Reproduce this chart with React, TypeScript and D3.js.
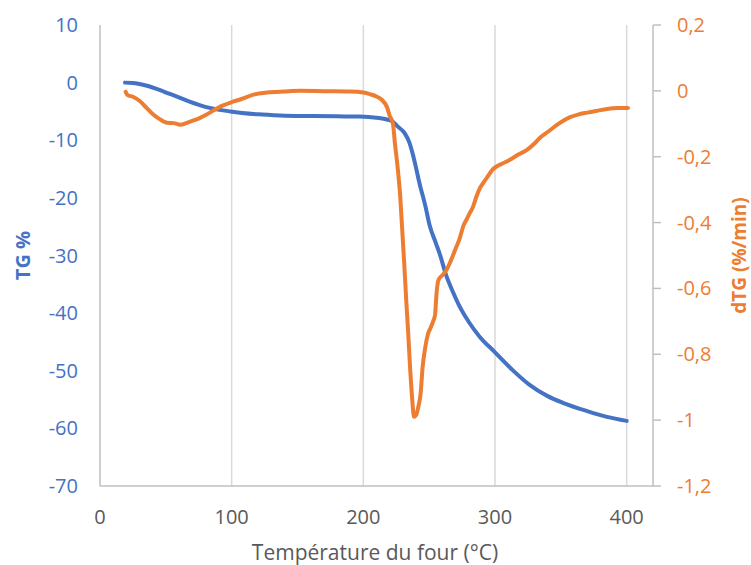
import React from "react";
import * as d3 from "d3";

const xTicks = [0, 100, 200, 300, 400];
const tgTicks = [10, 0, -10, -20, -30, -40, -50, -60, -70];
const dtgTicks = [0.2, 0, -0.2, -0.4, -0.6, -0.8, -1, -1.2];

const tgTemp = [19, 25, 35, 48, 58, 68, 80, 99, 120, 137, 160, 180, 197, 210, 218, 222.5, 226, 231.5, 235, 238, 243, 247, 250.5, 255, 258, 263, 268, 273, 280, 288, 300, 313, 326, 340, 352, 370, 385, 400];
const tgValues = [0, -0.05, -0.5, -1.5, -2.4, -3.3, -4.2, -5.0, -5.5, -5.7, -5.8, -5.85, -5.9, -6.1, -6.4, -6.8, -7.6, -8.8, -10.4, -12.8, -17.8, -21.3, -24.9, -27.8, -29.7, -33.5, -36.3, -38.8, -41.5, -44, -46.8, -49.8, -52.4, -54.4, -55.6, -57, -58, -58.7];

const dtgTemp = [19.5, 21, 25, 30, 35, 40, 45, 51, 56, 61, 66, 71, 76, 81, 86, 93, 101, 108, 116, 127, 140, 152, 170, 190, 200, 205, 210, 214, 218, 220, 222.5, 224, 226, 228, 229.5, 231, 232.5, 234, 235.5, 237, 238.5, 240, 242, 243.5, 245, 247, 249, 251, 253, 254.5, 255.5, 257, 260, 263, 266, 270, 273, 276, 278.5, 281, 283, 286, 288, 291, 294.5, 298, 301, 306, 311, 317, 324, 330, 334, 340, 349, 357, 363, 370, 378, 385, 393, 401];
const dtgValues = [-0.003, -0.013, -0.018, -0.03, -0.05, -0.07, -0.085, -0.097, -0.098, -0.103, -0.097, -0.09, -0.082, -0.072, -0.06, -0.045, -0.033, -0.024, -0.012, -0.005, -0.002, 0, -0.001, -0.002, -0.005, -0.01, -0.017, -0.027, -0.05, -0.075, -0.1, -0.16, -0.23, -0.32, -0.42, -0.52, -0.63, -0.73, -0.84, -0.93, -0.99, -0.985, -0.955, -0.92, -0.84, -0.78, -0.74, -0.72, -0.7, -0.68, -0.62, -0.575, -0.56, -0.545, -0.52, -0.48, -0.45, -0.41, -0.39, -0.37, -0.355, -0.32, -0.3, -0.28, -0.26, -0.24, -0.23, -0.22, -0.21, -0.195, -0.18, -0.16, -0.143, -0.125, -0.098, -0.08, -0.072, -0.066, -0.06, -0.055, -0.052, -0.052];

const BLUE = "#4472C4";
const ORANGE = "#ED7D31";
const GRAY_TEXT = "#595959";
const FONT = "'Open Sans', sans-serif";

export default function App() {
  const W = 751, H = 565;
  const left = 100, right = 653, top = 25, bottom = 486;
  const x = d3.scaleLinear().domain([0, 420]).range([left, right]);
  const yL = d3.scaleLinear().domain([-70, 10]).range([bottom, top]);
  const yR = d3.scaleLinear().domain([-1.2, 0.2]).range([bottom, top]);

  const tgData = tgTemp.map((t, i) => [t, tgValues[i]] as [number, number]);
  const dtgData = dtgTemp.map((t, i) => [t, dtgValues[i]] as [number, number]);

  const tgLine = d3.line<[number, number]>().x(d => x(d[0])).y(d => yL(d[1])).curve(d3.curveMonotoneX);
  const dtgLine = d3.line<[number, number]>().x(d => x(d[0])).y(d => yR(d[1])).curve(d3.curveMonotoneX);

  const fmtR = (v: number) => (Math.round(v * 10) / 10).toString().replace(".", ",");

  return (
    <svg width={W} height={H} style={{ position: "absolute", left: 0, top: 0, background: "#fff" }} fontFamily={FONT}>
      {/* gridlines */}
      {xTicks.filter(t => t > 0).map(t => (
        <line key={"g" + t} x1={x(t)} x2={x(t)} y1={top} y2={bottom} stroke="#d9d9d9" strokeWidth={1.5} />
      ))}
      {/* axes */}
      <line x1={left} x2={left} y1={top} y2={bottom} stroke="#bfbfbf" strokeWidth={1.5} />
      <line x1={left} x2={right} y1={bottom} y2={bottom} stroke="#bfbfbf" strokeWidth={1.5} />
      <line x1={right} x2={right} y1={top} y2={bottom} stroke="#bfbfbf" strokeWidth={1.5} />
      {dtgTicks.map(t => (
        <line key={"rt" + t} x1={right} x2={right + 8} y1={yR(t)} y2={yR(t)} stroke="#bfbfbf" strokeWidth={1.5} />
      ))}
      {/* tick labels */}
      {tgTicks.map(t => (
        <text key={"l" + t} x={78} y={yL(t)} dy="0.35em" textAnchor="end" fontSize={20} fill={BLUE}>{t}</text>
      ))}
      {dtgTicks.map(t => (
        <text key={"r" + t} x={677} y={yR(t)} dy="0.35em" textAnchor="start" fontSize={20} fill={ORANGE}>{fmtR(t)}</text>
      ))}
      {xTicks.map(t => (
        <text key={"x" + t} x={x(t)} y={517} dy="0.35em" textAnchor="middle" fontSize={20} fill={GRAY_TEXT}>{t}</text>
      ))}
      {/* titles */}
      <text x={375} y={553} dy="0.35em" textAnchor="middle" fontSize={21} fill={GRAY_TEXT}>Température du four (°C)</text>
      <text transform={`translate(23,${(top + bottom) / 2}) rotate(-90)`} dy="0.35em" textAnchor="middle" fontSize={20} fontWeight="bold" fill={BLUE}>TG %</text>
      <text transform={`translate(739,${(top + bottom) / 2}) rotate(-90)`} dy="0.35em" textAnchor="middle" fontSize={19} fontWeight="bold" fill={ORANGE}>dTG (%/min)</text>
      {/* series */}
      <path d={tgLine(tgData) || ""} fill="none" stroke={BLUE} strokeWidth={4} strokeLinecap="round" strokeLinejoin="round" />
      <path d={dtgLine(dtgData) || ""} fill="none" stroke={ORANGE} strokeWidth={4} strokeLinecap="round" strokeLinejoin="round" />
    </svg>
  );
}
